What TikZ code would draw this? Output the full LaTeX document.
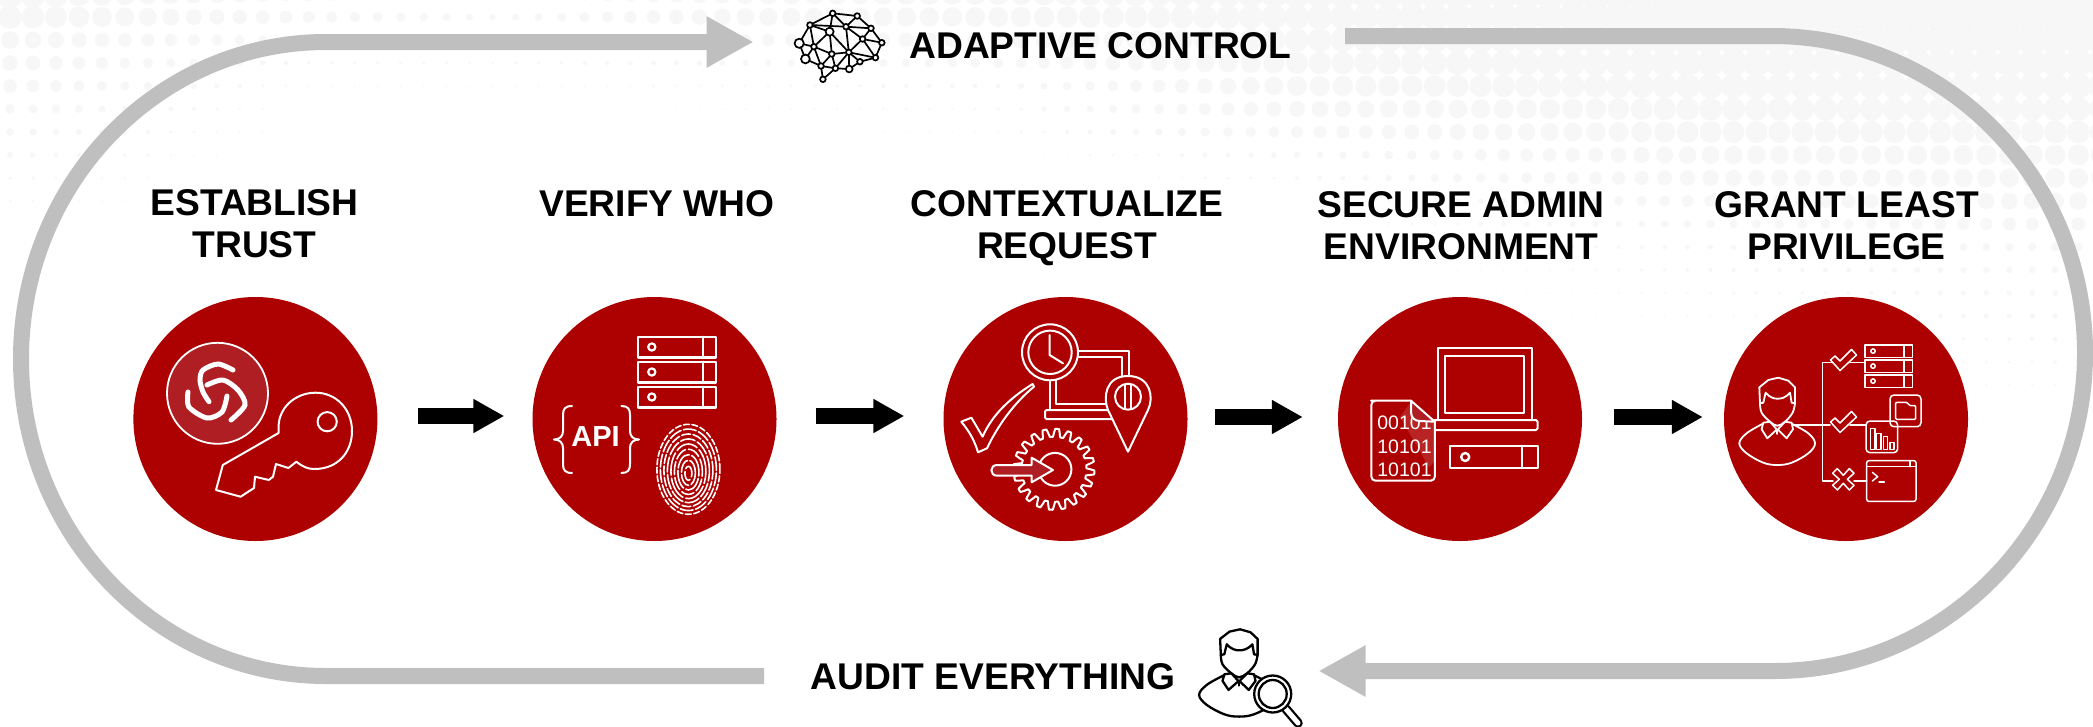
\documentclass[tikz,border=0pt]{standalone}
\usepackage{fontspec}
\setmainfont{Liberation Sans}
\usetikzlibrary{arrows.meta,calc}
\definecolor{discred}{HTML}{AD0000}
\definecolor{softred}{HTML}{AE1E23}
\definecolor{track}{HTML}{BFBFBF}
\definecolor{dotc}{HTML}{F7F7F7}
\tikzset{
  disc/.style={circle,fill=discred,minimum size=244pt,inner sep=0pt},
  heading/.style={font=\fontsize{37.2}{41.5}\selectfont\bfseries,inner sep=0pt,anchor=base,align=center,text=black},
  blockarrow/.style={line width=16pt,black,-{Triangle[length=31pt,width=32pt]}},
  trackline/.style={line width=16pt,track},
  trackarrow/.style={trackline,-{Triangle[length=47pt,width=48pt]}},
  icon/.style={draw=white,line width=2pt,line join=round,line cap=round},
  thinicon/.style={icon,line width=1.5pt},
  brainedge/.style={draw=black,line width=1.7pt},
  brainnode/.style={draw=black,fill=white,line width=1.7pt},
  dark/.style={draw=black,line width=2.3pt,line join=round,line cap=round,fill=white},
}
% person outline, origin at the neck; style given as argument
\newcommand{\personicon}[1]{%
  \draw[#1] plot[smooth,tension=.6] coordinates {(-15,4) (-30.7,13.3) (-38,23.3) (-30.7,33.3) (-14,42.7) (0,45) (14.3,42.7) (31,33.3) (37.7,23.3) (31,13.3) (15,4)};
  \draw[#1] plot[smooth,tension=.6] coordinates {(-17.3,-16.7) (-15.7,-7.3) (-7.3,1.7) (0,5.7) (7.7,1.7) (15.3,-7.3) (17.7,-16.7)};
  \draw[#1] (-17.3,-16.7) -- (-18,-32.7) -- (-9,-40) -- (1,-42.3) -- (11,-39.3) -- (17.7,-32.7) -- (17.7,-16.7) -- (14.3,-17.3) -- (12.7,-27.3) .. controls (8,-22) and (4,-21.3) .. (0.3,-21.3) .. controls (-3,-21.3) and (-7,-22) .. (-11.7,-27.3) -- (-14,-17.3) -- cycle;
  \draw[#1] (-7.3,1.7) -- (-14,2.7) -- (-15.7,9.3) -- (-10,18.3) -- (-0.5,9.5) -- (-7.3,1.7);
  \draw[#1] (7.7,1.7) -- (14.3,2.7) -- (15.7,9.3) -- (9.3,18.3) -- (0.5,9.5) -- (7.7,1.7);
  \draw[#1] (0,9.5) -- (0,14);
}
\begin{document}
\begin{tikzpicture}[x=1pt,y=-1pt,declare function={cl(\t)=min(1,max(0,\t));}]
\path[use as bounding box] (0,0) rectangle (2093,726);
\fill[white] (0,0) rectangle (2093,726);

% halftone background
\foreach \yy/\ra/\rb/\rc/\rd/\re/\rf/\rg/\rh in {
 -6/14/7/5/10/11/14/16/16, 17/12/6/3/9/10/12.5/15.5/16, 40/9/4/2/6/8/12/15/15,
 63/8/2/1.5/3/5/11/13.5/14, 86/7/1/1/1.5/2.5/10/12.5/13, 109/5/.5/.5/1/1.5/8/11.5/12,
 132/4/.4/0/.5/1/6/11/11.5, 155/3/0/0/0/.5/3/9/10.5, 178/2/0/0/0/0/2/8/10,
 201/1.5/0/0/0/0/0/6/9, 224/1/0/0/0/0/.5/4/7, 247/.7/0/0/0/0/0/2.5/4.5,
 270/.5/0/0/0/0/0/2/3.5, 293/0/0/0/0/0/0/1.5/3, 316/0/0/0/0/0/0/1/3,
 339/0/0/0/0/0/0/.5/2.5, 362/0/0/0/0/0/0/0/2, 385/0/0/0/0/0/0/0/1.5, 408/0/0/0/0/0/0/0/1}{
  \foreach \i in {0,...,91}{
    \pgfmathsetmacro\xx{10+22.98*\i}
    \pgfmathsetmacro\rr{\ra+(\rb-\ra)*cl(\xx/300)+(\rc-\rb)*cl((\xx-300)/200)+(\rd-\rc)*cl((\xx-500)/250)+(\re-\rd)*cl((\xx-750)/250)+(\rf-\re)*cl((\xx-1000)/300)+(\rg-\rf)*cl((\xx-1300)/400)+(\rh-\rg)*cl((\xx-1700)/393)}
    \ifdim\rr pt>0.3pt
      \fill[dotc] (\xx,\yy) circle[radius=\rr pt];
    \fi
  }
}

% step discs
\node[disc] (c1) at (255.4,419) {};
\node[disc] (c2) at (654.5,419) {};
\node[disc] (c3) at (1065.5,419) {};
\node[disc] (c4) at (1460,419) {};
\node[disc] (c5) at (1846,419) {};

% headings
\node[heading] (h1) at (254.5,257) {ESTABLISH\\TRUST};
\node[heading] (h2) at (657,216) {VERIFY WHO};
\node[heading] (h3) at (1067,258) {CONTEXTUALIZE\\REQUEST};
\node[heading] (h4) at (1461,259) {SECURE ADMIN\\ENVIRONMENT};
\node[heading] (h5) at (1846.5,259) {GRANT LEAST\\PRIVILEGE};
\node[heading] (adaptive) at (1100.5,58) {ADAPTIVE CONTROL};
\node[heading] (audit) at (993,689) {AUDIT EVERYTHING};

% connectors between discs
\draw[blockarrow] ($(c1.east)+(40,-3)$) -- ($(c2.west)+(-28,-3)$);
\draw[blockarrow] ($(c2.east)+(39,-3)$) -- ($(c3.west)+(-39,-3)$);
\draw[blockarrow] ($(c3.east)+(27.5,-2)$) -- ($(c4.west)+(-35,-2)$);
\draw[blockarrow] ($(c4.east)+(31.4,-2)$) -- ($(c5.west)+(-21,-2)$);

% loop track
\coordinate (tlstart) at (764,676);
\coordinate (tlend) at (753.6,42);
\coordinate (trstart) at (1345,36);
\coordinate (trend) at (1318.5,671);
\draw[trackarrow] (tlstart) -- (326,676) .. controls (157.6,676) and (21,534) .. (21,359) .. controls (21,183.5) and (157.6,42) .. (326,42) -- (tlend);
\draw[trackarrow] (trstart) -- (1772,36) .. controls (1945,36) and (2085,178) .. (2085,353) .. controls (2085,528) and (1945,671) .. (1775,671) -- (trend);

% --- disc 1: logo and key
\draw[draw=white,fill=softred,line width=1.8pt] (217.5,393.3) circle[radius=50.5pt];
\begin{scope}[draw=white,line width=5pt,line cap=round]
\draw plot[smooth] coordinates {(233,370) (218,364) (203,370) (200,380) (203,392) (209,401.7)};
\draw plot[smooth] coordinates {(207,385) (223,380) (238,390) (245,405) (231,420)};
\draw plot[smooth] coordinates {(188,392) (189,407) (207,418) (222,412) (227,396)};
\end{scope}
\draw[icon] (278.6,433) -- (222.8,465) -- (216,490) -- (240.6,496.7) -- (254,488) -- (255,476.7) -- (268.8,480) -- (273,476.7) -- (276,464) -- (288.4,468) -- (296.4,461.7) .. controls (303,467) and (308,469) .. (314.3,469) .. controls (338,469) and (352,452) .. (352,431) .. controls (352,409) and (336,392.7) .. (315.6,392.7) .. controls (295,392.7) and (278.6,408) .. (278.6,426.7) -- cycle;
\draw[icon] (327.2,421.7) circle[radius=9.6pt];

% --- disc 2: servers, API, fingerprint
\foreach \yy in {336.7,361.7,386.7}{
  \draw[icon,line width=2.4pt] (638,\yy) rectangle (716,\yy+20.6);
  \draw[icon,line width=2.4pt] (702.7,\yy) -- (702.7,\yy+20.6);
  \draw[icon,line width=2.2pt] (651.8,\yy+10.3) circle[radius=3.6pt];
}
\node[inner sep=0pt,text=white,font=\fontsize{29}{29}\selectfont\bfseries] (api) at (595.5,436.7) {API};
\draw[icon] (572,406) .. controls (565,406) and (563,409) .. (563,415) -- (563,431) .. controls (563,436) and (560,439.5) .. (554,439.5) .. controls (560,439.5) and (563,443) .. (563,448) -- (563,464) .. controls (563,470) and (565,473) .. (572,473);
\draw[icon] (621.4,406) .. controls (628,406) and (630,409) .. (630,415) -- (630,431) .. controls (630,436) and (633,439.5) .. (639,439.5) .. controls (633,439.5) and (630,443) .. (630,448) -- (630,464) .. controls (630,470) and (628,473) .. (621.4,473);
\begin{scope}[draw=white,line width=1.6pt,line cap=round]
\foreach \k/\don/\doff in {1/12/3,2/14/2.5,3/19/2.5,4/13/3,5/23/3,6/15/2.5,7/9/2.5,8/13/2.5,9/6/2.5}{
  \pgfmathsetmacro\rx{31.5*\k/9}
  \pgfmathsetmacro\ry{45*(\k/9)^.85}
  \pgfmathsetmacro\cy{469.3+(9-\k)*.5}
  \draw[dash pattern=on \don pt off \doff pt] (688.4,\cy) ellipse[x radius=\rx pt,y radius=\ry pt];
}
\end{scope}

% --- disc 3: clock, laptop, pin, check, gear
\draw[icon] (1050,352.3) circle[radius=28pt];
\draw[icon] (1050,352.3) circle[radius=21.7pt];
\draw[icon] (1049.6,335) -- (1049.6,355) -- (1063,363.3);
\draw[icon] (1078.6,350.7) -- (1129,350.7) -- (1129,376);
\draw[icon] (1078.6,357.3) -- (1121.9,357.3) -- (1121.9,378);
\draw[icon] (1050.4,380) -- (1050.4,410);
\draw[icon] (1056,380) -- (1056,404.3) -- (1107.6,404.3);
\draw[icon,rounded corners=1.5pt] (1112,410) -- (1045,410) -- (1045,419) -- (1112,419);
\draw[icon,fill=discred] (1128,451.7) -- (1108,410) .. controls (1103,398) and (1105,376) .. (1128,376) .. controls (1151,376) and (1154,398) .. (1148,410) -- cycle;
\draw[icon] (1128,396.7) circle[radius=13pt];
\draw[icon] (1124.5,384.5) -- (1124.5,409);
\draw[icon] (1131.2,384.5) -- (1131.2,409);
\draw[icon] (961.2,421.7) -- (971.4,417.7) -- (982.6,436.7) .. controls (992,415) and (1010,398) .. (1032.6,384) -- (1034,386.7) .. controls (1015,402) and (998,425) .. (987,448.3) -- (978,452.3) .. controls (975,442) and (970,432) .. (961.2,421.7);
\draw[icon] plot[samples=201,domain=0:360,variable=\t] ({1054+(36.5+4*min(1,max(-1,2*sin(20*\t))))*cos(\t)},{469.3+(36.5+4*min(1,max(-1,2*sin(20*\t))))*sin(\t)});
\draw[icon,fill=discred] (1055,469.3) circle[radius=16.4pt];
\draw[icon,fill=softred] (1031.7,457.7) -- (1053,470) -- (1031.7,482.3) -- (1031.7,475.7) -- (997,475.7) .. controls (989.5,475.7) and (989.5,465) .. (997,465) -- (1031.7,465) -- cycle;

% --- disc 4: monitor, document, desktop
\draw[icon] (1438,419) -- (1438,348.3) -- (1531.7,348.3) -- (1531.7,419);
\draw[icon] (1444.6,356) rectangle (1523.7,413.3);
\draw[icon,rounded corners=1.5pt] (1433.5,420) rectangle (1537.5,430);
\draw[icon] (1450,445.7) rectangle (1537.5,468.3);
\draw[icon] (1521.9,445.7) -- (1521.9,468.3);
\draw[icon,line width=2.4pt] (1465.2,457) circle[radius=4pt];
\fill[discred] (1411,400.7) -- (1434.8,421.7) -- (1434.8,480) -- (1372.4,480) -- (1372.4,401.7) -- cycle;
\fill[white,opacity=.14] (1411,402) -- (1400,417) -- (1429,467) -- (1433.8,462) -- (1433.8,423) -- cycle;
\node[inner sep=0pt,anchor=base,text=white,font=\fontsize{19.5}{19.5}\selectfont] (bits1) at (1404.5,429.3) {00101};
\node[inner sep=0pt,anchor=base,text=white,font=\fontsize{19.5}{19.5}\selectfont] (bits2) at (1404.5,453.3) {10101};
\node[inner sep=0pt,anchor=base,text=white,font=\fontsize{19.5}{19.5}\selectfont] (bits3) at (1404.5,476) {10101};
\draw[icon,fill=softred] (1411,400.7) -- (1411,412) .. controls (1411,418) and (1415,421) .. (1420,421) -- (1434.8,421.7) -- cycle;
\draw[icon,rounded corners=4pt] (1411,400.7) -- (1375,400.7) -- (1371.4,400.7) -- (1371.4,480.7) -- (1434.8,480.7) -- (1434.8,421.7);

% --- disc 5: user, entitlement tree
\begin{scope}[shift={(1777.3,420)}]
\personicon{thinicon,line width=1.8pt}
\end{scope}
\draw[thinicon] (1793.3,425) -- (1830,425);
\draw[thinicon] (1850,362.3) -- (1822.7,362.3) -- (1822.7,481) -- (1833,481);
\draw[thinicon] (1850,362.3) -- (1865,362.3);
\draw[thinicon] (1850,425) -- (1866,425);
\draw[thinicon] (1854,481) -- (1866.7,481);
\foreach \yy in {0,62}{
  \draw[thinicon,fill=discred] (1830.5,360+\yy) -- (1840,370.5+\yy) -- (1856.5,355+\yy) -- (1851.5,349.5+\yy) -- (1840,361+\yy) -- (1835,356+\yy) -- cycle;
}
\begin{scope}[shift={(1843.3,479.3)}]
\draw[thinicon,fill=discred] (0,-4) -- (6,-10.7) -- (10.7,-6) -- (4,0) -- (10.7,6) -- (6,10.7) -- (0,4) -- (-6,10.7) -- (-10.7,6) -- (-4,0) -- (-10.7,-6) -- (-6,-10.7) -- cycle;
\end{scope}
\foreach \yy in {345,360,375}{
  \draw[thinicon] (1865,\yy) rectangle (1912.3,\yy+12.3);
  \draw[thinicon] (1904,\yy) -- (1904,\yy+12.3);
  \draw[thinicon] (1873,\yy+6.1) circle[radius=2.2pt];
}
\draw[thinicon,rounded corners=4pt] (1890,395) rectangle (1921,426.7);
\draw[thinicon,rounded corners=1pt] (1895.7,402.3) -- (1906.7,402.3) -- (1910,405.7) -- (1915.7,405.7) -- (1915.7,419.3) -- (1895.7,419.3) -- cycle;
\draw[thinicon,rounded corners=4pt] (1866,421) rectangle (1897.7,452.7);
\draw[thinicon] (1870.7,428.3) rectangle (1875,449.3);
\draw[thinicon] (1876.7,433.3) rectangle (1881,449.3);
\draw[thinicon] (1883.3,436.7) rectangle (1887.3,449.3);
\draw[thinicon] (1890,442.3) rectangle (1894,449.3);
\draw[thinicon,rounded corners=2pt] (1866.7,460.7) rectangle (1916,501.3);
\draw[thinicon] (1866.7,466.7) -- (1916,466.7);
\draw[thinicon] (1910,460.7) -- (1910,466.7);
\draw[thinicon] (1872.3,472.3) -- (1877.7,476.7) -- (1872.3,481);
\draw[thinicon] (1879,482) -- (1884.3,482);

% --- brain icon
\foreach \n/\px/\py in {a/832.7/13.3,b/857.2/16,c/809.9/25,d/846/26.7,e/871/28.3,f/829.6/31.7,g/862.6/39,h/881.8/42.7,i/799.2/43.3,j/813.9/46.7,k/831.8/54,l/848.8/52.3,m/875.5/57.7,n/859.9/61.7,o/805.4/59,p/821/66,q/835.4/68.3,r/849.2/69,s/822.9/79.3}{
  \coordinate (br\n) at (\px,\py);
}
\foreach \u/\v in {a/b,a/c,a/d,a/f,b/d,b/e,c/d,c/f,c/i,c/j,d/e,d/g,d/l,e/g,e/h,f/j,f/k,f/l,g/h,g/l,g/m,h/m,i/j,i/o,j/o,j/k,j/p,k/l,k/p,k/q,l/q,l/r,l/m,l/n,m/n,n/r,o/p,p/s,p/q,q/r,q/s}{
  \draw[brainedge] (br\u) -- (br\v);
}
\foreach \n in {a,b,c,d,e,g,h,j,k,l,m,n,p,q,s}{ \draw[brainnode] (br\n) circle[radius=2.8pt]; }
\draw[brainnode] (brf) circle[radius=4pt];
\draw[brainnode] (bri) circle[radius=4.6pt];
\draw[brainnode] (bro) circle[radius=4.4pt];
\draw[brainnode] (brr) circle[radius=3.4pt];

% --- auditor icon
\begin{scope}[shift={(1239,671.6)},xscale=1.05]
\personicon{dark,fill=none}
\end{scope}
\draw[draw=black,line width=9.5pt,line cap=round] (1286,709) -- (1298,723);
\draw[draw=white,line width=5pt,line cap=round] (1286,709) -- (1298,723);
\draw[dark] (1272.7,694) circle[radius=18.5pt];
\draw[dark] (1272.7,694) circle[radius=14pt];
\end{tikzpicture}
\end{document}
